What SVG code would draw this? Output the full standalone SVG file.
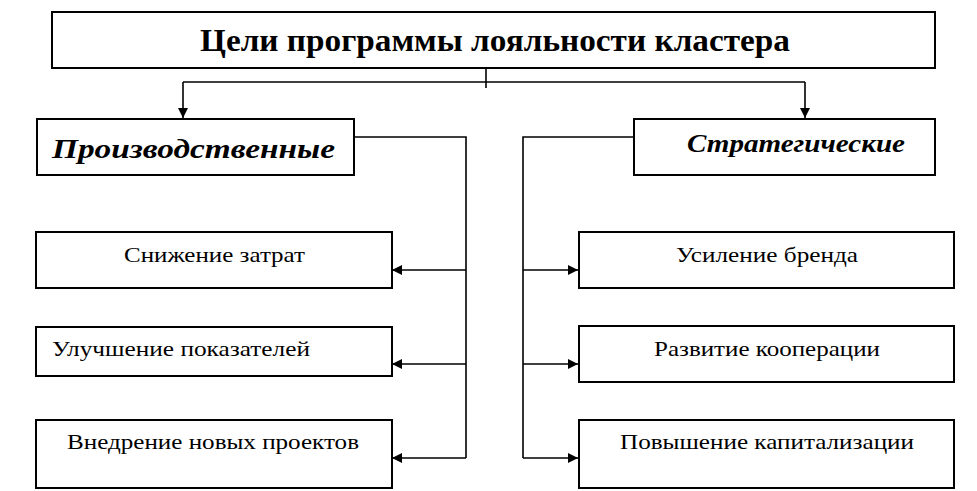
<svg xmlns="http://www.w3.org/2000/svg" width="977" height="491" viewBox="0 0 977 491">
<style>
.box{fill:#fff;stroke:#000;stroke-width:2}
.ln{fill:none;stroke:#000;stroke-width:1.6}
</style>
<defs>
<marker id="ah" viewBox="0 0 10 10" refX="10" refY="5" markerWidth="10" markerHeight="10" markerUnits="userSpaceOnUse" orient="auto">
<path d="M0,0 L10,5 L0,10 z" fill="#000"/>
</marker>
</defs>
<rect width="977" height="491" fill="#fff"/>
<g id="connectors">
<path class="ln" d="M486,68 V88"/>
<path class="ln" d="M183,82 H805"/>
<path class="ln" d="M183,82 V118" marker-end="url(#ah)"/>
<path class="ln" d="M805,82 V118" marker-end="url(#ah)"/>
<path class="ln" d="M354,137 H466 V458"/>
<path class="ln" d="M466,270 H392" marker-end="url(#ah)"/>
<path class="ln" d="M466,364 H392" marker-end="url(#ah)"/>
<path class="ln" d="M466,458 H392" marker-end="url(#ah)"/>
<path class="ln" d="M634,137 H523 V458"/>
<path class="ln" d="M523,270 H578" marker-end="url(#ah)"/>
<path class="ln" d="M523,364 H578" marker-end="url(#ah)"/>
<path class="ln" d="M523,458 H578" marker-end="url(#ah)"/>
</g>
<g id="title">
<rect class="box" x="52" y="12" width="883" height="56"/>
<text font-family="Liberation Serif" font-size="31" font-weight="bold" x="495" y="51" text-anchor="middle" textLength="590" lengthAdjust="spacingAndGlyphs">Цели программы лояльности кластера</text>
</g>
<g id="prod">
<rect class="box" x="37" y="119" width="317" height="56"/>
<text font-family="Liberation Serif" font-size="27" font-weight="bold" font-style="italic" x="52" y="158" textLength="283" lengthAdjust="spacingAndGlyphs">Производственные</text>
</g>
<g id="strat">
<rect class="box" x="634" y="119" width="301" height="56"/>
<text font-family="Liberation Serif" font-size="25" font-weight="bold" font-style="italic" x="687" y="152" textLength="218" lengthAdjust="spacingAndGlyphs">Стратегические</text>
</g>
<g id="l1">
<rect class="box" x="36" y="232" width="356" height="56"/>
<text font-family="Liberation Serif" font-size="21" x="124" y="262" textLength="181" lengthAdjust="spacingAndGlyphs">Снижение затрат</text>
</g>
<g id="l2">
<rect class="box" x="36" y="327" width="356" height="49"/>
<text font-family="Liberation Serif" font-size="21" x="52" y="356" textLength="258" lengthAdjust="spacingAndGlyphs">Улучшение показателей</text>
</g>
<g id="l3">
<rect class="box" x="36" y="420" width="356" height="68"/>
<text font-family="Liberation Serif" font-size="21" x="67" y="449" textLength="292" lengthAdjust="spacingAndGlyphs">Внедрение новых проектов</text>
</g>
<g id="r1">
<rect class="box" x="579" y="232" width="375" height="56"/>
<text font-family="Liberation Serif" font-size="21" x="676" y="262" textLength="182" lengthAdjust="spacingAndGlyphs">Усиление бренда</text>
</g>
<g id="r2">
<rect class="box" x="579" y="326" width="375" height="56"/>
<text font-family="Liberation Serif" font-size="21" x="654" y="356" textLength="226" lengthAdjust="spacingAndGlyphs">Развитие кооперации</text>
</g>
<g id="r3">
<rect class="box" x="579" y="420" width="375" height="68"/>
<text font-family="Liberation Serif" font-size="21" x="620" y="449" textLength="294" lengthAdjust="spacingAndGlyphs">Повышение капитализации</text>
</g>
</svg>
